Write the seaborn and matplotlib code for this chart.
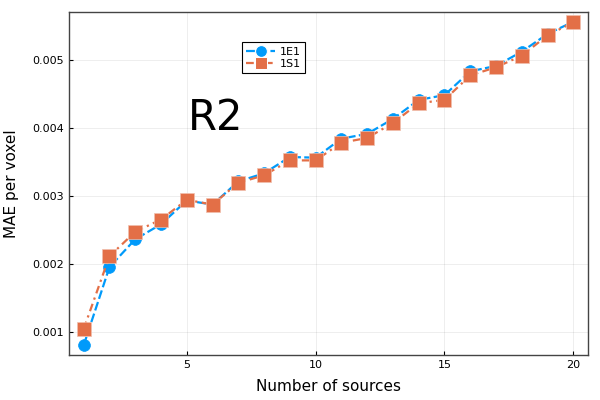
import pandas as pd
import matplotlib
matplotlib.use("Agg")
import matplotlib.pyplot as plt
import seaborn as sns

# values
n_sources = list(range(1, 21))
mae_1e1 = [0.00081, 0.00196, 0.00237, 0.00259, 0.00294, 0.00288, 0.00322, 0.00334,
           0.00358, 0.00357, 0.00385, 0.00392, 0.00414, 0.00442, 0.00449, 0.00484,
           0.00492, 0.00513, 0.00539, 0.00557]
mae_1s1 = [0.00105, 0.00212, 0.00248, 0.00266, 0.00295, 0.00288, 0.00320, 0.00331,
           0.00353, 0.00353, 0.00379, 0.00386, 0.00408, 0.00437, 0.00442, 0.00478,
           0.00490, 0.00507, 0.00537, 0.00556]
series_names = ["1E1", "1S1"]

df = pd.concat([
    pd.DataFrame({"n": n_sources, "mae": mae_1e1, "model": "1E1"}),
    pd.DataFrame({"n": n_sources, "mae": mae_1s1, "model": "1S1"}),
], ignore_index=True)

sns.set_theme(style="white")
plt.rcParams["font.family"] = ["DejaVu Sans"]
plt.rcParams["text.color"] = "black"
plt.rcParams["axes.labelcolor"] = "black"
plt.rcParams["xtick.color"] = "black"
plt.rcParams["ytick.color"] = "black"

colors = {"1E1": "#009AFA", "1S1": "#E36F47"}
fig = plt.figure(figsize=(6, 4), dpi=100)
ax = fig.add_axes([0.115, 0.1125, 0.865, 0.8575])

sns.lineplot(data=df, x="n", y="mae", hue="model", style="model",
             palette=colors, markers={"1E1": "o", "1S1": "s"},
             dashes={"1E1": (4, 1.5), "1S1": (3.5, 2, 1, 2)},
             linewidth=1.6, markersize=8.5, ax=ax)

for line, name in zip(ax.lines, series_names):
    line.set_markeredgecolor(colors[name])
    line.set_markeredgewidth(0.5)
ax.lines[1].set_markersize(9.5)
ax.lines[1].set_markeredgecolor("#f0c0ae")

ax.set_xlim(0.43, 20.57)
ax.set_ylim(0.000667, 0.005713)
ax.set_xticks([5, 10, 15, 20])
ax.set_yticks([0.001, 0.002, 0.003, 0.004, 0.005])
ax.set_yticklabels(["0.001", "0.002", "0.003", "0.004", "0.005"])
ax.grid(True, color="black", alpha=0.08, linewidth=0.6)
ax.tick_params(direction="in", length=3, width=0.8, labelsize=8, color="black",
               labelcolor="black", left=True, bottom=True)
for s in ax.spines.values():
    s.set_color("#444444")
    s.set_linewidth(1.0)

ax.set_xlabel("Number of sources", fontsize=11)
ax.set_ylabel("MAE per voxel", fontsize=11)
ax.yaxis.set_label_coords(-0.097, 0.5)
ax.xaxis.set_label_coords(0.5, -0.07)

ax.text(6.1, 0.00415, "R2", fontsize=30, ha="center", va="center", color="black")

leg = ax.legend(loc="upper left", bbox_to_anchor=(0.333, 0.912), borderaxespad=0,
                fontsize=8, fancybox=False, framealpha=1, edgecolor="black",
                handlelength=2.6, borderpad=0.4, labelspacing=0.2, handletextpad=0.4)
leg.get_frame().set_linewidth(0.8)
for t in leg.get_texts():
    t.set_color("black")

fig.savefig("out.png", dpi=100)
